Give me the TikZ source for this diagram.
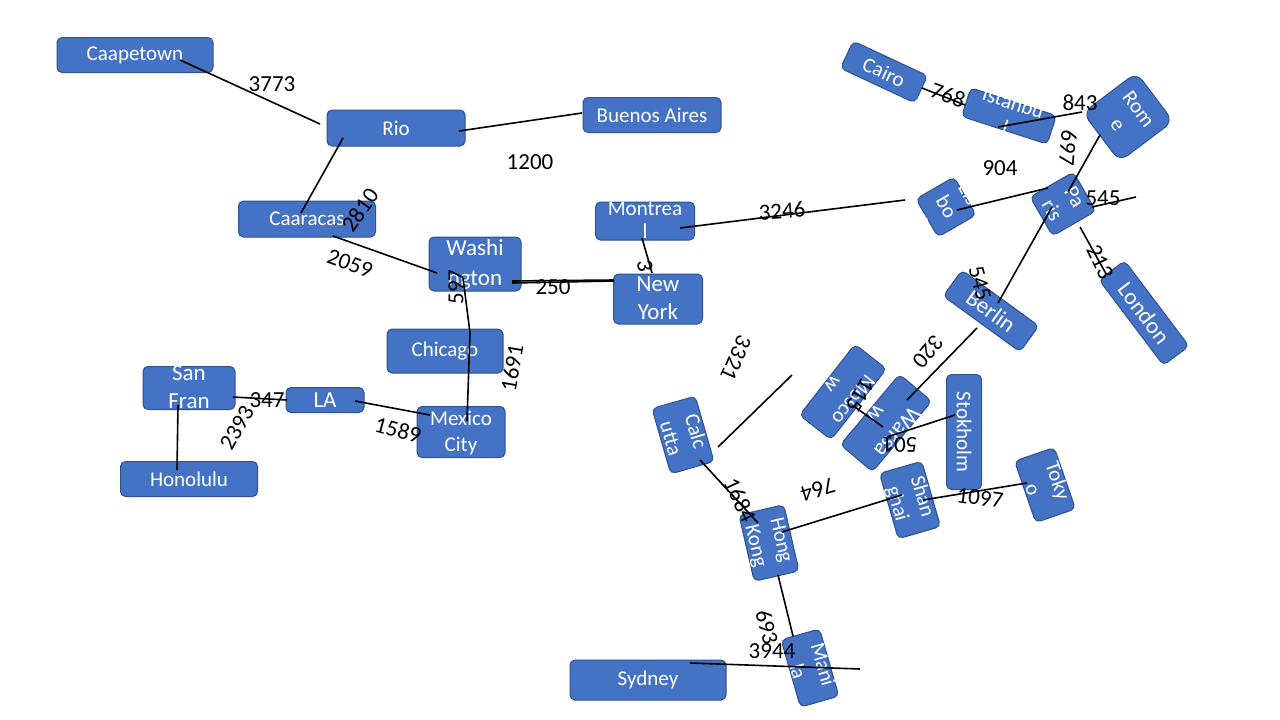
\documentclass[tikz,border=0pt]{standalone}
\usepackage{fontspec}
\setmainfont{Carlito}
\usepackage{tikz}
\usetikzlibrary{calc}

\definecolor{cityfill}{HTML}{4472C4}
\definecolor{cityline}{HTML}{2F528F}

% two-line names may spill over the box
\newcommand{\boxtext}[1]{\smash{\raisebox{-0.3em}{\begin{tabular}{@{}c@{}}#1\end{tabular}}}}

\tikzset{
  city/.style={draw=cityline, fill=cityfill, line width=1pt, rounded corners=5pt,
    text=white, inner sep=0pt, align=center, font=\fontsize{21}{26}\selectfont},
  bigcity/.style={city, font=\fontsize{23}{28}\selectfont},
  road/.style={black, line width=1.6pt},
  dist/.style={black, inner sep=0pt, font=\fontsize{23}{27}\selectfont}
}

\begin{document}
\begin{tikzpicture}[x=1pt, y=-1pt]
        \useasboundingbox[fill=white] (0,0) rectangle (1280,720);

        % cities
        \node[city, minimum width=156, minimum height=35] (cape) at (135,55) {Caapetown};
        \node[city, minimum width=138, minimum height=36] (rio) at (396,128) {Rio};
        \node[city, minimum width=138, minimum height=35] (buenos) at (652,115) {Buenos Aires};
        \node[city, minimum width=137, minimum height=36] (caracas) at (307,219) {Caaracas};
        \node[bigcity, minimum width=92, minimum height=54] (wash) at (475,264) {\boxtext{Washi\\[2pt]ngton}};
        \node[city, minimum width=99, minimum height=38] (montreal) at (645,221) {\boxtext{Montrea\\[-3pt]l}};
        \node[bigcity, minimum width=89, minimum height=50] (newyork) at (658,299) {\boxtext{New\\York}};
        \node[city, minimum width=116, minimum height=44] (chicago) at (445,351) {Chicago};
        \node[bigcity, minimum width=92, minimum height=43] (sanfran) at (189,388) {\boxtext{San\\Fran}};
        \node[bigcity, minimum width=78, minimum height=25] (la) at (325,400) {LA};
        \node[city, minimum width=88, minimum height=51] (mexico) at (461,432) {\boxtext{Mexico\\City}};
        \node[city, minimum width=137, minimum height=35] (honolulu) at (189,479) {Honolulu};
        \node[city, minimum width=156, minimum height=40] (sydney) at (648,680) {Sydney};

        \node[city, rotate=-25, minimum width=82, minimum height=30] (cairo) at (884,72) {Cairo};
        \node[city, rotate=-18, minimum width=90, minimum height=30] (istanbul) at (1009,116) {\boxtext{Istanbu\\l}};
        \node[city, rotate=-53, rounded corners=10pt, minimum width=61, minimum height=67] (rome) at (1128,117) {\boxtext{Rom\\e}};
        \node[city, rotate=-60, minimum width=44, minimum height=44] (lisbon) at (946,207) {\boxtext{Lis\\bo\\n}};
        \node[city, rotate=-60, minimum width=45, minimum height=50] (paris) at (1063,204) {\boxtext{Pa\\ris}};
        \node[bigcity, rotate=-53, minimum width=107, minimum height=32] (london) at (1144,313) {London};
        \node[bigcity, rotate=-36, minimum width=95, minimum height=32] (berlin) at (991,311) {Berlin};
        \node[city, rotate=-128, minimum width=90, minimum height=40] (moscow) at (843,392) {\boxtext{Mosco\\w}};
        \node[bigcity, rotate=-130, minimum width=92, minimum height=42] (warsaw) at (886,423) {\boxtext{Warsa\\w}};
        \node[city, rotate=-90, minimum width=115, minimum height=35] (stockholm) at (964,432) {Stokholm};
        \node[city, rotate=-74, minimum width=68, minimum height=45] (calcutta) at (683,435) {\boxtext{Calc\\utta}};
        \node[city, rotate=-77, minimum width=68, minimum height=46] (hongkong) at (769,543) {\boxtext{Hong\\Kong}};
        \node[city, rotate=-74, minimum width=70, minimum height=40] (manila) at (810,668) {\boxtext{Mani\\la}};
        \node[city, rotate=-74, minimum width=68, minimum height=44] (shanghai) at (910,500) {\boxtext{Shan\\ghai}};
        \node[city, rotate=-71, minimum width=65, minimum height=42] (tokyo) at (1045,485) {\boxtext{Toky\\o}};

        % loose ends
        \coordinate (farcal) at (792,375);
        \coordinate (farpar) at (1136,197);

        % roads
        \draw[road] ([shift={(45,5)}]cape.center) -- ([shift={(-76,-4)}]rio.center);
        \draw[road] ([shift={(63,3)}]rio.center) -- ([shift={(-70,-2)}]buenos.center);
        \draw[road] ([shift={(-53,10)}]rio.center) -- ([shift={(-6,-6)}]caracas.center);
        \draw[road] ([shift={(26,17)}]caracas.center) -- ([shift={(-38,9)}]wash.center);
        \draw[road] ([shift={(37,19)}]wash.center) -- ([shift={(-44,-18)}]newyork.center);
        \draw[road] ([shift={(37,17)}]wash.center) -- ([shift={(-44,-19)}]newyork.center);
        \draw[road] ([shift={(-3,17)}]montreal.center) -- ([shift={(-6,-26)}]newyork.center);
        \draw[road] ([shift={(35,7)}]montreal.center) -- ([shift={(-41,-7)}]lisbon.center);
        \draw[road] ([shift={(-12,14)}]wash.center) -- ([shift={(25,-18)}]chicago.center);
        \draw[road] ([shift={(25,-18)}]chicago.center) -- ([shift={(6,-11)}]mexico.center);
        \draw[road] ([shift={(44,9)}]sanfran.center) -- ([shift={(-38,0)}]la.center);
        \draw[road] ([shift={(-11,17)}]sanfran.center) -- ([shift={(-12,-9)}]honolulu.center);
        \draw[road] ([shift={(30,1)}]la.center) -- ([shift={(-31,-17)}]mexico.center);
        \draw[road] ([shift={(17,25)}]calcutta.center) -- ([shift={(-11,-20)}]hongkong.center);
        \draw[road] ([shift={(35,12)}]calcutta.center) -- (farcal);
        \draw[road] ([shift={(13,-11)}]hongkong.center) -- ([shift={(-8,-5)}]shanghai.center);
        \draw[road] ([shift={(13,0)}]shanghai.center) -- ([shift={(-18,-2)}]tokyo.center);
        \draw[road] ([shift={(9,32)}]hongkong.center) -- ([shift={(-17,-32)}]manila.center);
        \draw[road] ([shift={(42,-17)}]sydney.center) -- ([shift={(50,1)}]manila.center);
        \draw[road] ([shift={(-14,17)}]berlin.center) -- ([shift={(21,-23)}]warsaw.center);
        \draw[road] ([shift={(9,13)}]moscow.center) -- ([shift={(-3,4)}]warsaw.center);
        \draw[road] ([shift={(1,14)}]warsaw.center) -- ([shift={(-9,-17)}]stockholm.center);
        \draw[road] ([shift={(7,-8)}]berlin.center) -- ([shift={(-11,3)}]paris.center);
        \draw[road] ([shift={(17,23)}]paris.center) -- ([shift={(-39,-41)}]london.center);
        \draw[road] ([shift={(29,3)}]paris.center) -- (farpar);
        \draw[road] ([shift={(11,3)}]lisbon.center) -- ([shift={(-15,-16)}]paris.center);
        \draw[road] ([shift={(-28,18)}]rome.center) -- ([shift={(5,-12)}]paris.center);
        \draw[road] ([shift={(-11,11)}]istanbul.center) -- ([shift={(-46,-5)}]rome.center);
        \draw[road] ([shift={(38,16)}]cairo.center) -- ([shift={(-44,-11)}]istanbul.center);

        % distances
        \node[dist] (d1) at (272,84) {3773};
        \node[dist] (d2) at (530,162) {1200};
        \node[dist, rotate=55] (d3) at (360,210) {2810};
        \node[dist, rotate=-20] (d4) at (350,264) {2059};
        \node[dist] (d5) at (553,287) {250};
        \node[dist, rotate=-80] (d6) at (645,266) {3};
        \node[dist, rotate=4] (d7) at (782,211) {3246};
        \node[dist, rotate=90] (d8) at (456,287) {597};
        \node[dist, rotate=80] (d9) at (512,368) {1691};
        \node[dist] (d10) at (267,400) {347};
        \node[dist, rotate=60] (d11) at (237,428) {2393};
        \node[dist, rotate=-15] (d12) at (398,430) {1589};
        \node[dist, rotate=-65] (d13) at (740,500) {1684};
        \node[dist, rotate=-114] (d14) at (736,358) {3321};
        \node[dist, rotate=197] (d15) at (818,490) {764};
        \node[dist, rotate=-8] (d16) at (980,498) {1097};
        \node[dist, rotate=-75] (d17) at (767,627) {693};
        \node[dist] (d18) at (772,651) {3944};
        \node[dist, rotate=-130] (d19) at (928,352) {320};
        \node[dist, rotate=-120] (d20) at (860,395) {115};
        \node[dist, rotate=180] (d21) at (900,445) {501};
        \node[dist, rotate=-75] (d22) at (980,283) {545};
        \node[dist, rotate=-65] (d23) at (1100,262) {213};
        \node[dist] (d24) at (1103,198) {545};
        \node[dist] (d25) at (1000,168) {904};
        \node[dist, rotate=-95] (d26) at (1068,148) {697};
        \node[dist] (d27) at (1080,103) {843};
        \node[dist, rotate=-20] (d28) at (948,95) {768};
\end{tikzpicture}
\end{document}
